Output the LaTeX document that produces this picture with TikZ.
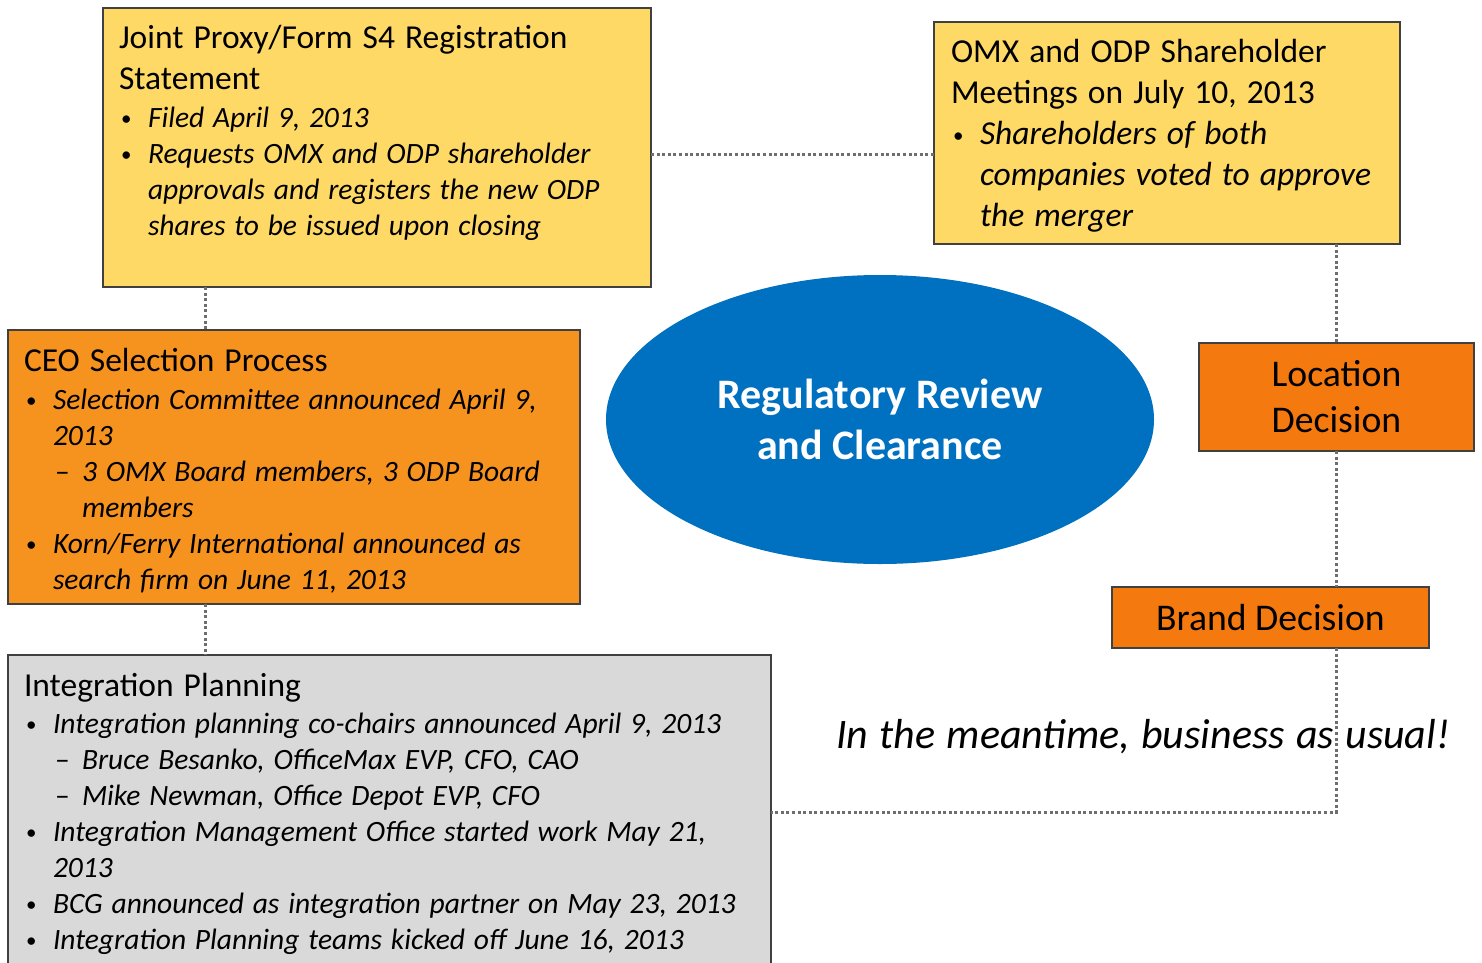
\documentclass[tikz,border=0pt]{standalone}
\usepackage{fontspec}
\setmainfont{Carlito}
\usetikzlibrary{shapes.geometric,calc}
\definecolor{yel}{HTML}{FED966}
\definecolor{org}{HTML}{F6931F}
\definecolor{orgdark}{HTML}{F47A0F}
\definecolor{gry}{HTML}{D9D9D9}
\definecolor{blu}{HTML}{0070C0}
\definecolor{edge}{HTML}{404040}
\definecolor{dotgray}{HTML}{6E6E6E}
\newcommand{\wsp}{\spaceskip=0.30em plus 0.05em\relax}
\newcommand{\bdot}{\makebox[29pt][l]{\hspace{2pt}\raisebox{2pt}{\fontsize{21pt}{21pt}\selectfont\textbullet}}}
\newcommand{\btitle}[2][40pt]{\par\noindent{\fontsize{33.5pt}{41pt}\selectfont\wsp\rule{0pt}{#1}#2\par}}
\newcommand{\bitem}[1]{\par{\fontsize{29.5pt}{36pt}\selectfont\wsp\hangindent=29pt\hangafter=1\noindent\bdot\textit{#1}\par}}
\newcommand{\bigitem}[1]{\par{\fontsize{33.5pt}{41pt}\selectfont\wsp\hangindent=29pt\hangafter=1\noindent\bdot\textit{#1}\par}}
\newcommand{\bsub}[1]{\par{\fontsize{29.5pt}{36pt}\selectfont\wsp\hangindent=58pt\hangafter=1\noindent\makebox[58pt][l]{\hspace{31pt}–}\textit{#1}\par}}
\tikzset{
  box/.style={draw=edge, line width=1.6pt, rectangle, inner sep=0pt, outer sep=0pt},
  txt/.style={anchor=north west, inner sep=0pt, outer sep=0pt},
  conn/.style={draw=dotgray, line width=3pt, dash pattern=on 3pt off 2.6pt}
}
\begin{document}
\begin{tikzpicture}[x=1pt,y=-1pt]
\useasboundingbox (0,0) rectangle (1482,963);
% boxes
\node[box, fill=yel, minimum width=548pt, minimum height=279pt] (joint) at (377,147.5) {};
\node[box, fill=yel, minimum width=466pt, minimum height=222pt] (omx) at (1167,133) {};
\node[box, fill=org, minimum width=572pt, minimum height=274pt] (ceo) at (294,467) {};
\node[box, fill=gry, minimum width=763pt, minimum height=320pt] (integ) at (389.5,815) {};
\node[box, fill=orgdark, minimum width=275pt, minimum height=108pt, align=center,
      font=\fontsize{37.7pt}{46pt}\selectfont] (loc) at (1336.5,397) {Location\\Decision};
\node[box, fill=orgdark, minimum width=317pt, minimum height=61pt,
      font=\fontsize{37.7pt}{46pt}\selectfont] (brand) at (1270.5,617.5) {Brand Decision};
\node[ellipse, fill=blu, text=white, inner sep=0pt, minimum width=548pt, minimum height=289pt,
      align=center, font=\bfseries\fontsize{42pt}{51pt}\selectfont] (reg) at (880,419.5) {Regulatory Review\\and Clearance};
% texts
\node[txt, text width=530pt] (jointtxt) at ([shift={(16,0)}]joint.north west) {\raggedright
  \btitle{Joint Proxy/Form S4 Registration\newline Statement}\vspace{2pt}
  \bitem{Filed April 9, 2013}
  \bitem{Requests OMX and ODP shareholder\newline approvals and registers the new ODP\newline shares to be issued upon closing}};
\node[txt, text width=450pt] (omxtxt) at ([shift={(17,0)}]omx.north west) {\raggedright
  \btitle[39pt]{OMX and ODP Shareholder\newline Meetings on July 10, 2013}
  \bigitem{Shareholders of both\newline companies voted to approve\newline the merger}};
\node[txt, text width=555pt] (ceotxt) at ([shift={(16,0)}]ceo.north west) {\raggedright
  \btitle{CEO Selection Process}\vspace{2pt}
  \bitem{Selection Committee announced April 9,\newline 2013}
  \bsub{3 OMX Board members, 3 ODP Board\newline members}
  \bitem{Korn/Ferry International announced as\newline search firm on June 11, 2013}};
\node[txt, text width=745pt] (integtxt) at ([shift={(16,0)}]integ.north west) {\raggedright
  \btitle[41pt]{Integration Planning}\vspace{1pt}
  \bitem{Integration planning co-chairs announced April 9, 2013}
  \bsub{Bruce Besanko, OfficeMax EVP, CFO, CAO}
  \bsub{Mike Newman, Office Depot EVP, CFO}
  \bitem{Integration Management Office started work May 21,\newline 2013}
  \bitem{BCG announced as integration partner on May 23, 2013}
  \bitem{Integration Planning teams kicked off June 16, 2013}};
\node[anchor=base west, inner sep=0pt, font=\itshape\fontsize{42pt}{50pt}\selectfont] (bau) at (836,748) {\spaceskip=0.27em\relax In the meantime, business as usual!};
% connectors
\coordinate (hy) at (0,154);
\coordinate (lx) at (205,0);
\coordinate (by) at (0,812);
\draw[conn] (joint.east |- hy) -- (omx.west |- hy);
\draw[conn] (joint.south -| lx) -- (ceo.north -| lx);
\draw[conn] (ceo.south -| lx) -- (integ.north -| lx);
\draw[conn] (omx.south -| loc.north) -- (loc.north);
\draw[conn] (loc.south) -- (brand.north -| loc.south);
\draw[conn] (brand.south -| loc.south) |- (integ.east |- by);
\end{tikzpicture}
\end{document}
